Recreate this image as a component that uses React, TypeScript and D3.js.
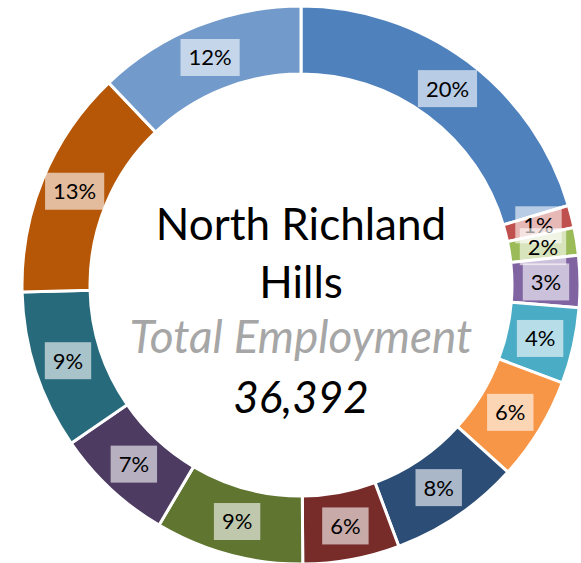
import * as d3 from "d3";
import { useEffect, useRef } from "react";

// employment share by sector, clockwise from 12 o'clock
const SECTORS = ["A", "B", "C", "D", "E", "F", "G", "H", "I", "J", "K", "L", "M"];
const SHARES = [20.4, 1.3, 1.6, 3.0, 4.4, 6.0, 7.6, 5.6, 8.6, 6.9, 9.2, 13.3, 12.1];
const COLORS = [
  "#4F81BD", "#C0504D", "#9BBB59", "#8064A2", "#4BACC6", "#F79646",
  "#2C4D75", "#772C2A", "#5F7530", "#4D3B62", "#276A7C", "#B65708", "#729ACA",
];
const TITLE_LINES = ["North Richland", "Hills"];
const SUBTITLE = "Total Employment";
const TOTAL = 36392;

const W = 581;
const H = 563;

const App = () => {
  const svgRef = useRef(null);

  useEffect(() => {
    const svgEl = d3.select(svgRef.current);
    svgEl.selectAll("*").remove();
    const g = svgEl.append("g").attr("transform", "translate(301,285)");

    const data = SECTORS.map((s, i) => ({ sector: s, value: SHARES[i], color: COLORS[i] }));
    const total = d3.sum(SHARES);
    const pie = d3.pie().sort(null).value((d) => d.value);
    const arcs = pie(data);
    const arc = d3.arc().innerRadius(211).outerRadius(279);

    g.selectAll(".slice")
      .data(arcs)
      .enter()
      .append("path")
      .attr("d", arc)
      .attr("fill", (d) => d.data.color)
      .attr("stroke", "#fff")
      .attr("stroke-width", 3);

    const pct = d3.format(".0%");
    // labels: white translucent box behind each value
    arcs.forEach((d) => {
      const [x, y] = arc.centroid(d);
      const lg = g.append("g").attr("transform", `translate(${x},${y})`);
      const rect = lg.append("rect").attr("fill", "#fff").attr("fill-opacity", 0.6);
      const t = lg
        .append("text")
        .attr("text-anchor", "middle")
        .attr("dy", "0.36em")
        .attr("font-family", "Lato, sans-serif")
        .attr("font-size", 22)
        .attr("fill", "#000")
        .text(pct(d.data.value / total));
      const w = t.node().getComputedTextLength() + 16;
      rect.attr("x", -w / 2).attr("y", -18.5).attr("width", w).attr("height", 37);
    });

    // center text
    const center = g.append("g").attr("font-family", "Lato, sans-serif").attr("text-anchor", "middle");
    TITLE_LINES.forEach((line, i) => {
      center
        .append("text")
        .attr("y", -45 + i * 58)
        .attr("font-size", 44)
        .attr("fill", "#000")
        .text(line);
    });
    center
      .append("text")
      .attr("y", 68)
      .attr("font-size", 46)
      .attr("font-style", "italic")
      .attr("fill", "#A6A6A6")
      .text(SUBTITLE);
    center
      .append("text")
      .attr("y", 128)
      .attr("font-size", 44)
      .attr("font-style", "italic")
      .attr("fill", "#000")
      .text(d3.format(",")(TOTAL));
  }, []);

  return (
    <svg
      ref={svgRef}
      width={W}
      height={H}
      style={{ position: "absolute", left: 0, top: 0, background: "#fff" }}
    />
  );
};

export default App;
